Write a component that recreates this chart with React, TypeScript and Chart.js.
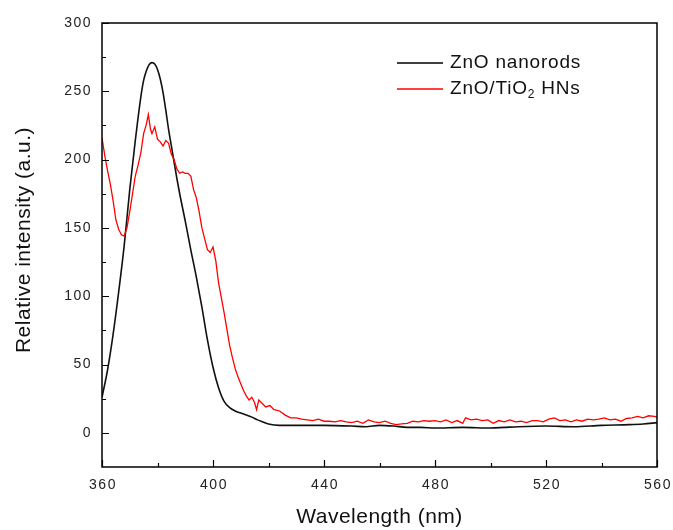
import React, { useEffect, useRef } from "react";
import { Chart, registerables } from "chart.js";

Chart.register(...registerables);

// ZnO nanorods
const znoWavelengths = [360, 362, 364, 366, 368, 370, 372, 374, 375, 376, 377, 378, 379, 380, 381, 382, 383, 384, 385, 386, 387, 388, 390, 392, 394, 396, 398, 400, 402, 404, 406, 408, 410, 412, 414, 416, 418, 420, 424, 430, 440, 450, 455, 460, 465, 470, 475, 480, 490, 500, 505, 510, 520, 530, 540, 550, 555, 560];
const znoValues = [26, 46, 72, 103, 137, 178, 214, 246, 258, 265, 269.5, 271, 270, 266, 259, 249, 236, 222, 210, 198, 186, 175, 155, 134, 114, 92, 68, 48, 33, 23, 18.5, 16, 14.5, 13, 11.5, 9.5, 8, 6.5, 5.5, 5.5, 5.5, 5, 4.5, 5.5, 5, 4, 4, 3.5, 4, 3.5, 4, 4.5, 5, 4.5, 5.5, 6, 6.5, 7.5];

// ZnO/TiO2 HNs
const hnsWavelengths = [360, 361, 362, 363, 364, 365, 366, 367, 368, 369, 370, 371, 372, 373, 374, 375, 376, 376.7, 377.5, 378, 379, 380, 381, 382, 383, 384, 385, 386, 387, 388, 389, 390, 391, 392, 393, 394, 395, 396, 397, 398, 399, 400, 401, 402, 403, 404, 405, 406, 407, 408, 409, 410, 411, 412, 413, 414, 415, 415.7, 416.5, 417.5, 419, 420.5, 422, 424, 426, 428, 430, 432, 434, 436, 438, 440, 442, 444, 446, 448, 450, 452, 454, 456, 458, 460, 462, 464, 466, 468, 470, 472, 474, 476, 478, 480, 482, 484, 486, 488, 490, 491, 493, 495, 497, 499, 501, 503, 505, 507, 509, 511, 513, 515, 517, 519, 521, 523, 525, 527, 529, 531, 533, 535, 537, 539, 541, 543, 545, 547, 549, 551, 553, 555, 557, 559, 560];
const hnsValues = [216, 203, 192, 182, 170, 156, 149, 145, 144, 150, 162, 175, 188, 196, 205, 219, 226, 233, 222, 219, 224, 215, 213, 210, 214, 212, 204, 200, 193, 190, 191, 190, 190, 188, 178, 172, 162, 150, 142, 134, 132, 136, 126, 110, 99, 88, 76, 64, 55, 47, 41, 36, 31, 27, 24, 26, 22, 17, 24, 22, 19, 20, 17, 16, 13, 11, 11, 10, 9.5, 9, 10, 8.5, 8.5, 8, 9, 8, 7.5, 8.5, 7, 9.5, 8, 7.5, 8.5, 7, 6, 6.5, 7, 8.5, 8, 9, 8.5, 9, 8, 9.5, 7.5, 9, 7, 11, 9.5, 10, 9, 9.5, 7, 9, 8, 9.5, 8, 8.5, 7.5, 9, 9, 8, 10, 11, 9, 9.5, 8, 9.5, 8.5, 10, 9.5, 10, 11, 9.5, 10, 8.5, 10.5, 11, 12, 11, 12.5, 12, 11.5];

const xMajorTicks = [360, 400, 440, 480, 520, 560];
const xMinorTicks = [380, 420, 460, 500, 540];
const yMajorTicks = [0, 50, 100, 150, 200, 250, 300];
const yMinorTicks = [25, 75, 125, 175, 225, 275];

const xTitle = "Wavelength (nm)";
const yTitle = "Relative intensity (a.u.)";
const seriesNames = ["ZnO nanorods", "ZnO/TiO", "2", " HNs"];

const FONT = '"Liberation Sans", Arial, sans-serif';

const decoPlugin = {
  id: "deco",
  afterDraw(chart: any) {
    const { ctx, chartArea: a, scales } = chart;
    const xs = scales.x;
    const ys = scales.y;
    ctx.save();
    // frame
    ctx.strokeStyle = "#000";
    ctx.lineWidth = 1.5;
    ctx.strokeRect(a.left, a.top, a.right - a.left, a.bottom - a.top);
    // tick marks (inward)
    ctx.lineWidth = 1.2;
    ctx.beginPath();
    yMajorTicks.forEach((v) => {
      const p = Math.round(ys.getPixelForValue(v)) + 0.5;
      ctx.moveTo(a.left, p);
      ctx.lineTo(a.left + 7, p);
    });
    yMinorTicks.forEach((v) => {
      const p = Math.round(ys.getPixelForValue(v)) + 0.5;
      ctx.moveTo(a.left, p);
      ctx.lineTo(a.left + 4, p);
    });
    xMajorTicks.forEach((v) => {
      const p = Math.round(xs.getPixelForValue(v)) + 0.5;
      ctx.moveTo(p, a.bottom);
      ctx.lineTo(p, a.bottom - 7);
    });
    xMinorTicks.forEach((v) => {
      const p = Math.round(xs.getPixelForValue(v)) + 0.5;
      ctx.moveTo(p, a.bottom);
      ctx.lineTo(p, a.bottom - 4);
    });
    ctx.stroke();

    // tick labels
    ctx.fillStyle = "#222";
    ctx.font = "14px " + FONT;
    (ctx as any).letterSpacing = "1.5px";
    ctx.textBaseline = "middle";
    ctx.textAlign = "right";
    yMajorTicks.forEach((v) => {
      ctx.fillText(String(v), a.left - 10, ys.getPixelForValue(v));
    });
    ctx.textAlign = "center";
    xMajorTicks.forEach((v) => {
      ctx.fillText(String(v), xs.getPixelForValue(v) + 1, a.bottom + 18);
    });

    // axis titles
    (ctx as any).letterSpacing = "0.5px";
    ctx.fillStyle = "#111";
    ctx.font = "21px " + FONT;
    ctx.textAlign = "center";
    ctx.fillText(xTitle, (a.left + a.right) / 2, 517);
    ctx.save();
    ctx.translate(24, 240);
    ctx.rotate(-Math.PI / 2);
    ctx.fillText(yTitle, 0, 0);
    ctx.restore();

    // legend
    const lx0 = 397;
    const lx1 = 443;
    const tx = 450;
    const r1 = 63;
    const r2 = 89;
    ctx.lineWidth = 1.5;
    ctx.strokeStyle = "#000";
    ctx.beginPath();
    ctx.moveTo(lx0, r1);
    ctx.lineTo(lx1, r1);
    ctx.stroke();
    ctx.strokeStyle = "#ff0000";
    ctx.beginPath();
    ctx.moveTo(lx0, r2);
    ctx.lineTo(lx1, r2);
    ctx.stroke();
    ctx.fillStyle = "#111";
    ctx.textAlign = "left";
    ctx.font = "19px " + FONT;
    (ctx as any).letterSpacing = "0.8px";
    ctx.fillText(seriesNames[0], tx, r1);
    ctx.fillText(seriesNames[1], tx, r2);
    const w = ctx.measureText(seriesNames[1]).width;
    ctx.font = "12px " + FONT;
    ctx.fillText(seriesNames[2], tx + w, r2 + 6);
    const w2 = ctx.measureText(seriesNames[2]).width;
    ctx.font = "19px " + FONT;
    ctx.fillText(seriesNames[3], tx + w + w2, r2);
    ctx.restore();
  },
};

export default function App() {
  const ref = useRef<HTMLCanvasElement>(null);
  useEffect(() => {
    if (!ref.current) return;
    const chart = new Chart(ref.current, {
      type: "line",
      data: {
        datasets: [
          {
            label: "ZnO nanorods",
            data: znoWavelengths.map((x, i) => ({ x, y: znoValues[i] })),
            borderColor: "#111111",
            borderWidth: 1.6,
            pointRadius: 0,
            cubicInterpolationMode: "monotone",
            order: 1,
          },
          {
            label: "ZnO/TiO2 HNs",
            data: hnsWavelengths.map((x, i) => ({ x, y: hnsValues[i] })),
            borderColor: "#ff0000",
            borderWidth: 1.3,
            pointRadius: 0,
            tension: 0,
            order: 0,
          },
        ],
      },
      options: {
        animation: false,
        responsive: false,
        layout: { padding: { left: 102, right: 16, top: 23, bottom: 63 } },
        scales: {
          x: { type: "linear", min: 360, max: 560, display: false },
          y: { type: "linear", min: -25, max: 300, display: false },
        },
        plugins: {
          legend: { display: false },
          tooltip: { enabled: false },
        },
      },
      plugins: [decoPlugin],
    });
    return () => chart.destroy();
  }, []);
  return (
    <div style={{ position: "absolute", left: 0, top: 0, width: 673, height: 530, background: "#fff" }}>
      <canvas ref={ref} width={673} height={530} style={{ width: 673, height: 530 }} />
    </div>
  );
}
